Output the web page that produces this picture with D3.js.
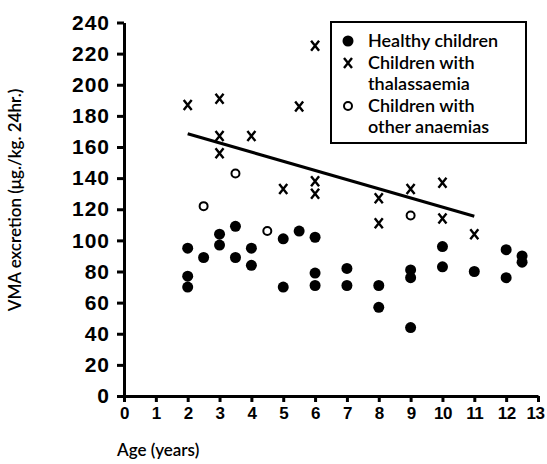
<!DOCTYPE html>
<html lang="en">
<head>
<meta charset="UTF-8">
<title>VMA excretion by age</title>
<style>
  body { margin: 0; background: #fff; }
  svg { display: block; font-family: Lato, "DejaVu Sans", sans-serif; font-weight: 600; }
  .axis path, .axis line { stroke: #000; stroke-width: 3px; }
  .axis text { fill: #000; }
  .fit { fill: none; stroke: #000; stroke-width: 3px; }
</style>
</head>
<body>
<svg width="547" height="464"></svg>
<script src="https://d3js.org/d3.v7.min.js"></script>
<script>
// healthy children: [age, VMA]
const healthy = [
  [2, 95], [2, 77], [2, 70], [2.5, 89], [3, 104], [3, 97], [3.5, 109], [3.5, 89],
  [4, 95], [4, 84], [5, 101], [5, 70], [5.5, 106], [6, 102], [6, 79], [6, 71],
  [7, 82], [7, 71], [8, 71], [8, 57], [9, 81], [9, 76], [9, 44],
  [10, 96], [10, 83], [11, 80], [12, 94], [12, 76], [12.5, 90], [12.5, 86]
];
// children with thalassaemia
const thalassaemia = [
  [2, 187], [3, 191], [3, 167], [3, 156], [4, 167], [5, 133], [5.5, 186],
  [6, 225], [6, 138], [6, 130], [8, 127], [8, 111], [9, 133],
  [10, 137], [10, 114], [11, 104]
];
// children with other anaemias
const otherAnaemias = [[2.5, 122], [3.5, 143], [4.5, 106], [9, 116]];
// fitted line for thalassaemia group
const fitLine = [[2, 168.5], [11, 115.5]];

const xTicks = d3.range(0, 14);
const yTicks = d3.range(0, 241, 20);

const svg = d3.select("svg");

const x = d3.scaleLinear().domain([0, 13]).range([124, 538]);
const y = d3.scaleLinear().domain([0, 240]).range([396, 22.5]);

// axes
svg.append("g")
    .attr("class", "axis")
    .attr("transform", "translate(124,0)")
    .call(d3.axisLeft(y).tickValues(yTicks).tickSize(7).tickSizeOuter(0).tickPadding(7))
    .call(g => g.selectAll("text").style("font-size", "21px").attr("letter-spacing", "1px"));

svg.append("g")
    .attr("class", "axis")
    .attr("transform", "translate(0,396)")
    .call(d3.axisBottom(x).tickValues(xTicks).tickSize(6).tickSizeOuter(0).tickPadding(5))
    .call(g => g.selectAll("text").style("font-size", "17px").attr("letter-spacing", "-0.5px"))
    .call(g => g.selectAll(".tick:last-of-type text").attr("dx", "-3"));

// axis titles
svg.append("text")
    .attr("transform", "translate(21,200) rotate(-90)")
    .attr("text-anchor", "middle")
    .style("font-size", "17px")
    .text("VMA excretion (μg./kg. 24hr.)");

svg.append("text")
    .attr("x", 117).attr("y", 456)
    .style("font-size", "17px")
    .text("Age (years)");

// regression line
svg.append("path")
    .attr("class", "fit")
    .attr("d", d3.line().x(d => x(d[0])).y(d => y(d[1]))(fitLine));

function cross(sel) {
  sel.append("path")
      .attr("d", "M-4,-5L4,5M4,-5L-4,5")
      .attr("stroke", "#000")
      .attr("stroke-width", 2.4)
      .attr("fill", "none");
}

svg.append("g").selectAll("circle")
    .data(healthy).join("circle")
    .attr("cx", d => x(d[0])).attr("cy", d => y(d[1]))
    .attr("r", 5.5).attr("fill", "#000");

svg.append("g").selectAll("g")
    .data(thalassaemia).join("g")
    .attr("transform", d => `translate(${x(d[0])},${y(d[1])})`)
    .call(cross);

svg.append("g").selectAll("circle")
    .data(otherAnaemias).join("circle")
    .attr("cx", d => x(d[0])).attr("cy", d => y(d[1]))
    .attr("r", 4).attr("fill", "#fff").attr("stroke", "#000").attr("stroke-width", 2);

// legend
const legend = svg.append("g");
legend.append("rect")
    .attr("x", 331).attr("y", 22).attr("width", 195).attr("height", 121)
    .attr("fill", "none").attr("stroke", "#000").attr("stroke-width", 2);

legend.append("circle").attr("cx", 348).attr("cy", 41).attr("r", 5.5).attr("fill", "#000");
legend.append("g").attr("transform", "translate(348,63)").call(cross);
legend.append("circle").attr("cx", 348).attr("cy", 106).attr("r", 4)
    .attr("fill", "#fff").attr("stroke", "#000").attr("stroke-width", 2);

const legendLines = ["Healthy children", "Children with", "thalassaemia", "Children with", "other anaemias"];
legend.selectAll("text")
    .data(legendLines).join("text")
    .attr("x", 368)
    .attr("y", (d, i) => 47 + i * 21.6)
    .style("font-size", "18px")
    .text(d => d);
</script>
</body>
</html>
